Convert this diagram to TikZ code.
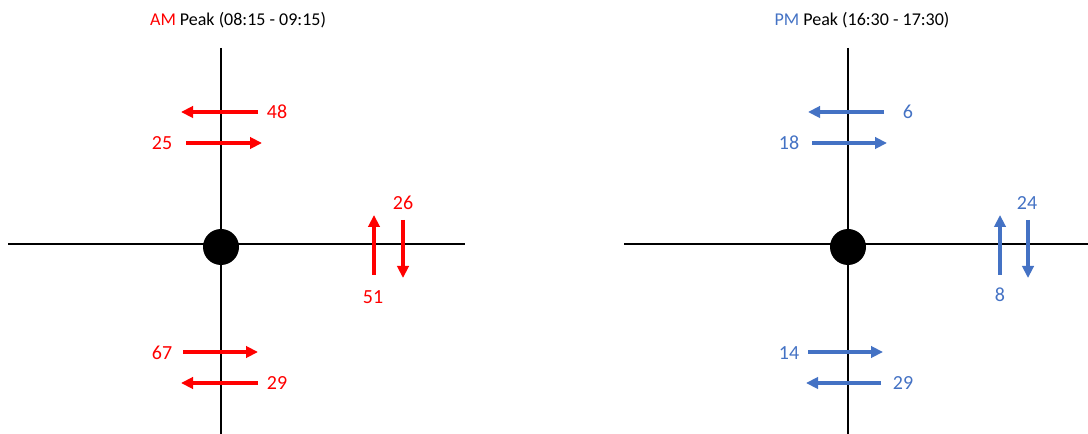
\documentclass[tikz,border=0pt]{standalone}
\usepackage{fontspec}
\setmainfont{Carlito}
\usetikzlibrary{arrows.meta}
\definecolor{amred}{HTML}{FF0000}
\definecolor{pmblue}{HTML}{4472C4}
\tikzset{
  road/.style={line width=1.7pt, black},
  flow/.style={line width=2.3pt, -{Triangle[length=9pt,width=8.5pt]}},
  amflow/.style={flow, amred},
  pmflow/.style={flow, pmblue},
  amlab/.style={text=amred, font=\fontsize{15}{18}\selectfont, inner sep=0pt},
  pmlab/.style={text=pmblue, font=\fontsize{15}{18}\selectfont, inner sep=0pt},
  title/.style={font=\fontsize{13.5}{16}\selectfont, inner sep=0pt},
  junction/.style={circle, fill=black, minimum size=27pt, inner sep=0pt},
}
\begin{document}
\begin{tikzpicture}[x=0.75pt,y=-0.75pt]
\useasboundingbox (0,0) rectangle (1088,434);
% ---------- AM ----------
\node[title] (amt) at (238,20) {\textcolor{amred}{AM} Peak (08:15 - 09:15)};
\coordinate (an) at (221,48); \coordinate (as) at (221,434);
\coordinate (aw) at (8,244); \coordinate (ae) at (465,244);
\draw[road] (an) -- (as);
\draw[road] (aw) -- (ae);
\node[junction] (aj) at (221,247) {};
% flows
\coordinate (a1s) at (258,112); \coordinate (a1e) at (181,112);
\draw[amflow] (a1s) -- (a1e);
\node[amlab] (a1l) at (277,112) {48};
\coordinate (a2s) at (186,143); \coordinate (a2e) at (262,143);
\draw[amflow] (a2s) -- (a2e);
\node[amlab] (a2l) at (162,143) {25};
\coordinate (a3s) at (374,275); \coordinate (a3e) at (374,215);
\draw[amflow] (a3s) -- (a3e);
\node[amlab] (a3l) at (373,297) {51};
\coordinate (a4s) at (403,220); \coordinate (a4e) at (403,278);
\draw[amflow] (a4s) -- (a4e);
\node[amlab] (a4l) at (403,203) {26};
\coordinate (a5s) at (183,352); \coordinate (a5e) at (258,352);
\draw[amflow] (a5s) -- (a5e);
\node[amlab] (a5l) at (162,353) {67};
\coordinate (a6s) at (258,383); \coordinate (a6e) at (181,383);
\draw[amflow] (a6s) -- (a6e);
\node[amlab] (a6l) at (277,383) {29};
% ---------- PM ----------
\node[title] (pmt) at (862,20) {\textcolor{pmblue}{PM} Peak (16:30 - 17:30)};
\coordinate (pn) at (848,48); \coordinate (ps) at (848,434);
\coordinate (pw) at (624,244); \coordinate (pe) at (1088,244);
\draw[road] (pn) -- (ps);
\draw[road] (pw) -- (pe);
\node[junction] (pj) at (848,247) {};
\coordinate (p1s) at (884,112); \coordinate (p1e) at (808,112);
\draw[pmflow] (p1s) -- (p1e);
\node[pmlab] (p1l) at (908,112) {6};
\coordinate (p2s) at (812,143); \coordinate (p2e) at (887,143);
\draw[pmflow] (p2s) -- (p2e);
\node[pmlab] (p2l) at (789,143) {18};
\coordinate (p3s) at (1000,275); \coordinate (p3e) at (1000,215);
\draw[pmflow] (p3s) -- (p3e);
\node[pmlab] (p3l) at (1000,295) {8};
\coordinate (p4s) at (1028,220); \coordinate (p4e) at (1028,278);
\draw[pmflow] (p4s) -- (p4e);
\node[pmlab] (p4l) at (1027,203) {24};
\coordinate (p5s) at (808,352); \coordinate (p5e) at (883,352);
\draw[pmflow] (p5s) -- (p5e);
\node[pmlab] (p5l) at (789,353) {14};
\coordinate (p6s) at (881,383); \coordinate (p6e) at (806,383);
\draw[pmflow] (p6s) -- (p6e);
\node[pmlab] (p6l) at (903,383) {29};
\end{tikzpicture}
\end{document}
